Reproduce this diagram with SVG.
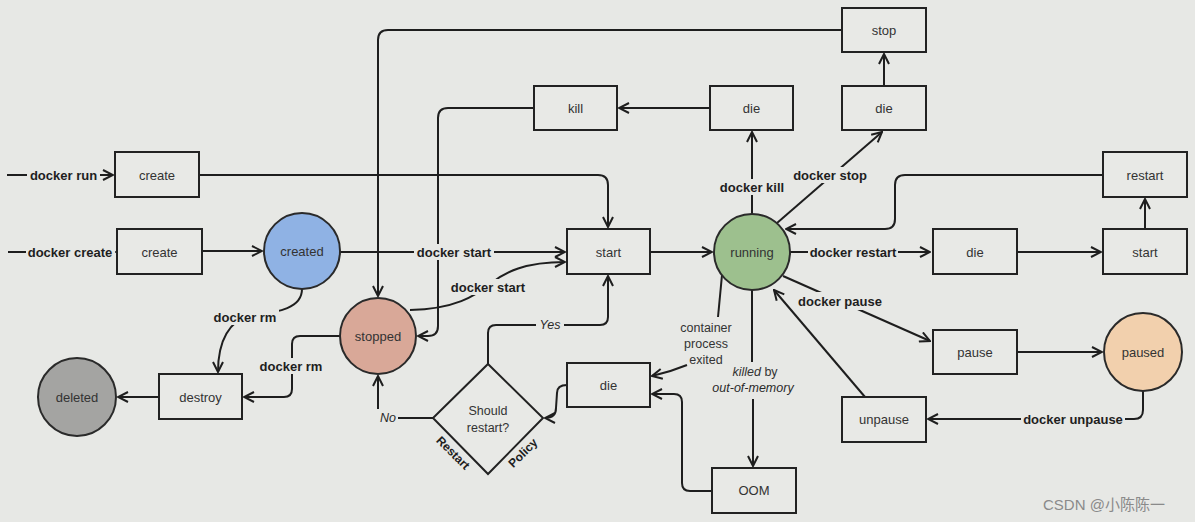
<svg xmlns="http://www.w3.org/2000/svg" width="1195" height="522" viewBox="0 0 1195 522">
<defs>
<marker id="ah" markerUnits="userSpaceOnUse" markerWidth="12" markerHeight="12" refX="10" refY="5" orient="auto" viewBox="-1 -1 12 12">
<path d="M0,0 L10,5 L0,10" fill="none" stroke="#1e1e1e" stroke-width="2" stroke-linejoin="miter"/>
</marker>
</defs>
<style>
.bg{fill:#e7e8e5}
.c{fill:none;stroke:#1e1e1e;stroke-width:2}
.a{marker-end:url(#ah)}
.box{fill:#e8e9e6;stroke:#222;stroke-width:2}
.circ{stroke:#2a2a2a;stroke-width:2}
.t{font-family:"Liberation Sans",Arial,sans-serif;font-size:13px;fill:#333;text-anchor:middle;dominant-baseline:central}
.lb{font-family:"Liberation Sans",Arial,sans-serif;font-size:13px;font-weight:bold;fill:#1e1e1e;text-anchor:middle;dominant-baseline:central}
.it{font-family:"Liberation Sans",Arial,sans-serif;font-size:12.5px;font-style:italic;fill:#2a2a2a;text-anchor:middle;dominant-baseline:central}
.sm{font-family:"Liberation Sans",Arial,sans-serif;font-size:12.5px;fill:#333;text-anchor:middle;dominant-baseline:central}
.lbg{fill:#e7e8e5}
</style>
<rect class="bg" x="0" y="0" width="1195" height="522"/>

<g id="restart-policy"><polygon class="box" points="488,364 543,418 488,474 433,418"/><text class="sm" x="488" y="411">Should</text><text class="sm" x="488" y="428">restart?</text></g>

<g id="connectors">
<path class="c a" d="M7,175 H113"/>
<path class="c a" d="M8,252 H115"/>
<path class="c a" d="M202,251 H262"/>
<path class="c a" d="M199,175 H598 Q608,175 608,185 V227"/>
<path class="c a" d="M340,252 H565"/>
<path class="c a" d="M410,310 C455,309 475,296 490,284 S525,262 565,262"/>
<path class="c a" d="M302,289 C302,308 280,312 250,316 C230,320 218,340 218,372"/>
<path class="c a" d="M340,336 H300 Q292,336 292,344 V389 Q292,397 284,397 H244"/>
<path class="c a" d="M159,397 H118"/>
<path class="c a" d="M433,418 H378 V376"/>
<path class="c a" d="M488,364 V333 Q488,325 496,325 H600 Q608,325 608,317 V276"/>
<path class="c a" d="M567,385 Q557,385 557,393 L556,408 Q556,418 545,418"/>
<path class="c" d="M722,275 L718,317"/>
<path class="c a" d="M687,365 Q670,372 652,376"/>
<path class="c" d="M752,290 V362"/>
<path class="c a" d="M753,399 V466"/>
<path class="c a" d="M712,491 H690 Q682,491 682,483 V402 Q682,394 674,394 H652"/>
<path class="c a" d="M650,252 H712"/>
<path class="c a" d="M752,214 V132"/>
<path class="c a" d="M777,223 L882,132"/>
<path class="c a" d="M884,86 V54"/>
<path class="c a" d="M842,30 H388 Q378,30 378,40 V296"/>
<path class="c a" d="M710,108 H619"/>
<path class="c a" d="M534,108 H448 Q438,108 438,118 V326 Q438,336 428,336 H418"/>
<path class="c a" d="M790,252 H930"/>
<path class="c a" d="M1017,252 H1101"/>
<path class="c a" d="M1145,229 V199"/>
<path class="c a" d="M1103,175 H905 Q895,175 895,185 V219 Q895,229 885,229 H786"/>
<path class="c a" d="M783,276 L930,341"/>
<path class="c a" d="M1017,352 H1102"/>
<path class="c a" d="M1143,391 V410 Q1143,419 1134,419 H928"/>
<path class="c a" d="M865,397 L774,290"/>
</g>

<g id="labels">
<rect class="lbg" x="27" y="167" width="73" height="16"/><text class="lb" x="63.5" y="175">docker run</text>
<rect class="lbg" x="26" y="244" width="89" height="16"/><text class="lb" x="70" y="252">docker create</text>
<rect class="lbg" x="414" y="244" width="80" height="16"/><text class="lb" x="454" y="252">docker start</text>
<rect class="lbg" x="450" y="279" width="77" height="16"/><text class="lb" x="488" y="287">docker start</text>
<rect class="lbg" x="212" y="309" width="67" height="16"/><text class="lb" x="245" y="317">docker rm</text>
<rect class="lbg" x="258" y="358" width="67" height="16"/><text class="lb" x="291" y="366">docker rm</text>
<rect class="lbg" x="376" y="409" width="22" height="18"/><text class="it" x="388" y="418">No</text>
<rect class="lbg" x="536" y="317" width="28" height="16"/><text class="it" x="550" y="325">Yes</text>
<rect class="lbg" x="717" y="179" width="70" height="16"/><text class="lb" x="752" y="187">docker kill</text>
<rect class="lbg" x="792" y="167" width="77" height="16"/><text class="lb" x="830" y="175">docker stop</text>
<rect class="lbg" x="808" y="244" width="90" height="16"/><text class="lb" x="853" y="252">docker restart</text>
<rect class="lbg" x="796" y="292" width="88" height="18"/><text class="lb" x="840" y="301">docker pause</text>
<rect class="lbg" x="1021" y="411" width="104" height="16"/><text class="lb" x="1073" y="419">docker unpause</text>
<text class="sm" x="706" y="328">container</text>
<text class="sm" x="706" y="344">process</text>
<text class="sm" x="706" y="360">exited</text>
<text class="sm" x="755" y="372"><tspan font-style="italic">killed</tspan> by</text>
<text class="it" x="753" y="388">out-of-memory</text>
<text class="lb" style="font-size:12px" transform="translate(453,453) rotate(45)">Restart</text>
<text class="lb" style="font-size:12px" transform="translate(523,453) rotate(-45)">Policy</text>
</g>

<g id="create1"><rect class="box" x="115" y="152" width="84" height="45"/><text class="t" x="157" y="175">create</text></g>
<g id="create2"><rect class="box" x="117" y="229" width="85" height="45"/><text class="t" x="159.5" y="252">create</text></g>
<g id="created"><circle class="circ" cx="302" cy="251" r="38" fill="#8fb2e4"/><text class="t" x="302" y="251">created</text></g>
<g id="stopped"><circle class="circ" cx="378" cy="336" r="38" fill="#d9a898"/><text class="t" x="378" y="336">stopped</text></g>
<g id="deleted"><circle class="circ" cx="77" cy="397" r="39" fill="#a4a4a2"/><text class="t" x="77" y="397">deleted</text></g>
<g id="destroy"><rect class="box" x="159" y="374" width="83" height="45"/><text class="t" x="200.5" y="397">destroy</text></g>
<g id="start"><rect class="box" x="567" y="229" width="83" height="45"/><text class="t" x="608.5" y="252">start</text></g>
<g id="kill"><rect class="box" x="534" y="86" width="83" height="44"/><text class="t" x="575.5" y="108">kill</text></g>
<g id="die-kill"><rect class="box" x="710" y="86" width="83" height="44"/><text class="t" x="751.5" y="108">die</text></g>
<g id="die-stop"><rect class="box" x="842" y="86" width="84" height="44"/><text class="t" x="884" y="108">die</text></g>
<g id="stop"><rect class="box" x="842" y="8" width="84" height="44"/><text class="t" x="884" y="30">stop</text></g>
<g id="running"><circle class="circ" cx="752" cy="252" r="38" fill="#9dc08e"/><text class="t" x="752" y="252">running</text></g>
<g id="die-restart"><rect class="box" x="933" y="229" width="84" height="45"/><text class="t" x="975" y="252">die</text></g>
<g id="start-restart"><rect class="box" x="1103" y="229" width="84" height="45"/><text class="t" x="1145" y="252">start</text></g>
<g id="restart"><rect class="box" x="1103" y="152" width="84" height="45"/><text class="t" x="1145" y="175">restart</text></g>
<g id="pause"><rect class="box" x="933" y="330" width="84" height="44"/><text class="t" x="975" y="352">pause</text></g>
<g id="paused"><circle class="circ" cx="1143" cy="352" r="39" fill="#f2d0ad"/><text class="t" x="1143" y="352">paused</text></g>
<g id="unpause"><rect class="box" x="842" y="397" width="84" height="45"/><text class="t" x="884" y="419">unpause</text></g>
<g id="die-exit"><rect class="box" x="567" y="363" width="83" height="44"/><text class="t" x="608.5" y="385">die</text></g>
<g id="oom"><rect class="box" x="712" y="468" width="84" height="45"/><text class="t" x="754" y="490.5">OOM</text></g>

<text x="1043" y="510" style="font-family:'Liberation Sans','Noto Sans CJK SC',sans-serif;font-size:15px;fill:#8a8a8a">CSDN @小陈陈一</text>
</svg>
